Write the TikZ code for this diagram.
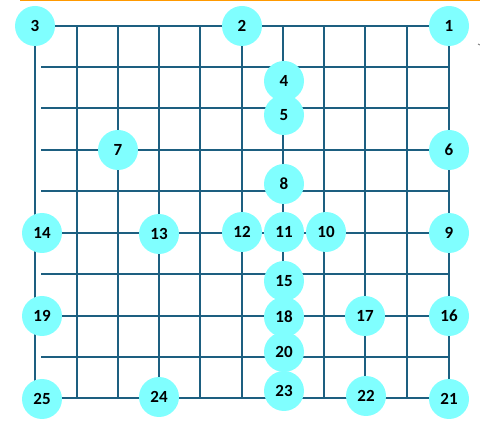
\documentclass[tikz,border=0pt]{standalone}
\usepackage{fontspec}
\setmainfont{Carlito}
\definecolor{gridc}{HTML}{1D5F80}
\definecolor{nodec}{HTML}{80FFFF}
\definecolor{topc}{HTML}{FF9900}
\begin{document}
\begin{tikzpicture}[x=1pt,y=-1pt,
  gridline/.style={draw=gridc,line width=2.7pt},
  num/.style={circle,fill=nodec,minimum size=40pt,inner sep=0pt,font=\fontsize{17}{17}\selectfont\bfseries,text=black}]
\useasboundingbox (0,0) rectangle (480,422);
\draw[topc,line width=2pt] (20,0.5) -- (480,0.5);
\draw[gray,line width=1pt] (478,44) -- (480,45);
% grid coordinates
\foreach \y [count=\i] in {26,67,108,150,191,233,274,316,357,398}{
  \coordinate (L\i) at (41,\y);
  \coordinate (R\i) at (449,\y);
}
\foreach \x [count=\j] in {35,77,118,159,200,242,283,324,365,407,449}{
  \coordinate (T\j) at (\x,26);
  \coordinate (B\j) at (\x,398);
}
\foreach \j in {1,...,11}{ \draw[gridline] (T\j) -- (B\j); }
\foreach \i in {2,3,4,5,7,9}{ \draw[gridline] (L\i) -- (R\i); }
\draw[gridline] (T1) -- (T11);
\draw[gridline] (35,233) -- (R6);
\draw[gridline] (35,316) -- (R8);
\draw[gridline] (B1) -- (B11);
% nodes
\node[num] (n3) at (35,26) {3};
\node[num] (n2) at (242,26) {2};
\node[num] (n1) at (449,26) {1};
\node[num] (n4) at (284,81) {4};
\node[num] (n5) at (284,115) {5};
\node[num] (n7) at (118,150) {7};
\node[num] (n6) at (449,150) {6};
\node[num] (n8) at (284,184) {8};
\node[num] (n14) at (42,233) {14};
\node[num] (n13) at (159,234) {13};
\node[num] (n12) at (242,232) {12};
\node[num] (n11) at (284,232) {11};
\node[num] (n10) at (326,232) {10};
\node[num] (n9) at (449,233) {9};
\node[num] (n15) at (284,281) {15};
\node[num] (n19) at (42,316) {19};
\node[num] (n18) at (284,317) {18};
\node[num] (n17) at (365,316) {17};
\node[num] (n16) at (449,316) {16};
\node[num] (n20) at (284,352) {20};
\node[num] (n25) at (42,399) {25};
\node[num] (n24) at (159,397) {24};
\node[num] (n23) at (284,391) {23};
\node[num] (n22) at (366,396) {22};
\node[num] (n21) at (449,399) {21};
\end{tikzpicture}
\end{document}
